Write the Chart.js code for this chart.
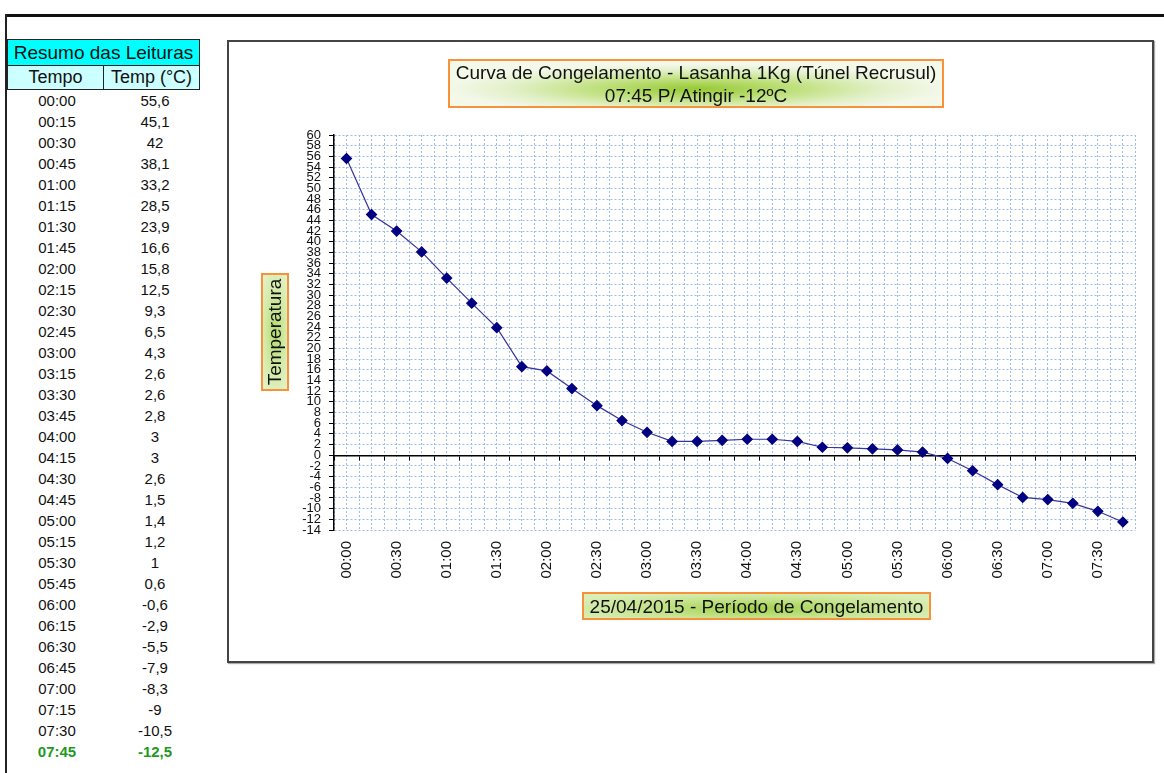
<!DOCTYPE html>
<html>
<head>
<meta charset="utf-8">
<script src="https://cdn.jsdelivr.net/npm/chart.js@4.4.1/dist/chart.umd.min.js"></script>
<style>
  html, body { margin:0; padding:0; background:#fff; }
  body { width:1164px; height:773px; position:relative; overflow:hidden; font-family:"Liberation Sans", Arial, sans-serif; }
  #topline { position:absolute; left:5px; top:14px; width:1159px; height:3px; background:#111; }
  #leftline { position:absolute; left:5px; top:14px; width:2px; height:759px; background:#222; }
  #hdr { position:absolute; left:7px; top:39px; width:193px; height:27px; background:#00ffff; border:1px solid #222; box-sizing:border-box;
         font-size:19px; line-height:25px; text-align:center; color:#111; white-space:nowrap; }
  .sub { position:absolute; top:66px; height:24px; background:#ccffff; border:1px solid #222; border-top:none; box-sizing:border-box;
         font-size:18px; line-height:22px; text-align:center; color:#111; white-space:nowrap; }
  .row { position:absolute; height:21px; line-height:21px; font-size:15px; text-align:center; color:#111; }
  .c1 { left:17px; width:80px; }
  .c2 { left:115px; width:80px; }
  .last { color:#1f9a1f; font-weight:bold; }
  #chartbox { position:absolute; left:227px; top:40px; width:927px; height:623px; border:2px solid #444; box-sizing:border-box;
              box-shadow:1px 1px 1px #aaa; background:#fff; }
  #cwrap { position:absolute; left:229px; top:42px; width:923px; height:619px; }
  .gbox { position:absolute; border:2px solid #f7923a; box-sizing:border-box; color:#111; text-align:center; white-space:nowrap; }
  #title { left:448px; top:59px; width:496px; height:49px; font-size:19px; line-height:23px; padding-top:0px;
           background: radial-gradient(ellipse 50% 55% at 50% 62%, #96c935 0%, #bfe07c 40%, #e2f0c8 75%, #f3f8e9 100%); }
  #xtitle { left:582px; top:592px; width:349px; height:28px; font-size:19px; line-height:25px;
           background: radial-gradient(ellipse 60% 70% at 50% 60%, #a2d14b 0%, #c8e593 60%, #daeeb8 100%); }
  #ytitle { left:261px; top:273px; width:28px; height:118px;
           background: radial-gradient(ellipse 70% 60% at 50% 50%, #b3db6c 0%, #d3eaa8 60%, #e2f1c6 100%); }
  #ytitle span { position:absolute; left:50%; top:50%; transform:translate(-50%,-50%) rotate(-90deg); font-size:19px; white-space:nowrap; }
</style>
</head>
<body>
<div id="topline"></div>
<div id="leftline"></div>
<div id="hdr">Resumo das Leituras</div>
<div class="sub" style="left:7px;width:97px;border-right:1px solid #222;">Tempo</div>
<div class="sub" style="left:103px;width:97px;">Temp (°C)</div>
<div id="rows"></div>

<div id="chartbox"></div>
<div id="cwrap"><canvas id="c" width="923" height="619"></canvas></div>
<div class="gbox" id="title">Curva de Congelamento - Lasanha 1Kg (Túnel Recrusul)<br>07:45 P/ Atingir -12ºC</div>
<div class="gbox" id="ytitle"><span>Temperatura</span></div>
<div class="gbox" id="xtitle">25/04/2015 - Período de Congelamento</div>

<script>
const times = ["00:00","00:15","00:30","00:45","01:00","01:15","01:30","01:45","02:00","02:15","02:30","02:45",
  "03:00","03:15","03:30","03:45","04:00","04:15","04:30","04:45","05:00","05:15","05:30","05:45",
  "06:00","06:15","06:30","06:45","07:00","07:15","07:30","07:45"];
const temps = [55.6,45.1,42,38.1,33.2,28.5,23.9,16.6,15.8,12.5,9.3,6.5,4.3,2.6,2.6,2.8,3,3,2.6,1.5,1.4,1.2,1,0.6,
  -0.6,-2.9,-5.5,-7.9,-8.3,-9,-10.5,-12.5];
const yMin = -14, yMax = 60, yStep = 2;

// table
const rowsEl = document.getElementById('rows');
times.forEach((t, i) => {
  const top = 90 + i * 21;
  const cls = i === times.length - 1 ? ' last' : '';
  const v = String(temps[i]).replace('.', ',');
  rowsEl.insertAdjacentHTML('beforeend',
    `<div class="row c1${cls}" style="top:${top}px">${t}</div><div class="row c2${cls}" style="top:${top}px">${v}</div>`);
});

const gridBlue = '#9dbbe8';
new Chart(document.getElementById('c'), {
  type: 'line',
  data: {
    labels: times,
    datasets: [{
      data: temps,
      borderColor: '#3535a0',
      borderWidth: 1.2,
      backgroundColor: '#000080',
      pointBackgroundColor: '#000080',
      pointBorderColor: '#000080',
      pointStyle: 'rectRot',
      pointRadius: 5,
      tension: 0,
      xAxisID: 'x',
      yAxisID: 'y'
    }]
  },
  options: {
    responsive: false,
    animation: false,
    events: [],
    layout: { padding: { left: 55, top: 93, right: 7, bottom: 51 } },
    plugins: { legend: { display: false }, tooltip: { enabled: false }, title: { display: false } },
    scales: {
      x: {
        type: 'category',
        offset: true,
        position: 'bottom',
        afterFit: s => { s.height = 80; },
        grid: { offset: false, color: gridBlue, lineWidth: 1, drawTicks: false },
        border: { display: false, dash: [2, 2] },
        ticks: {
          autoSkip: false, minRotation: 90, maxRotation: 90, padding: 11,
          color: '#111', font: { family: 'Liberation Sans', size: 15 },
          callback: function(v, i) { return i % 2 === 0 ? this.getLabelForValue(v) : ''; }
        }
      },
      x0: {
        type: 'category',
        offset: true,
        position: { y: 0 },
        grid: { offset: true, color: gridBlue, lineWidth: 1, drawTicks: true, tickLength: 4, tickColor: '#000', tickWidth: 1 },
        border: { display: true, color: '#000', width: 1.5, dash: [2, 2] },
        ticks: { display: false }
      },
      y: {
        type: 'linear',
        min: yMin, max: yMax,
        afterFit: s => { s.width = 50; },
        grid: { color: gridBlue, lineWidth: 1, drawTicks: true, tickLength: 5, tickColor: '#000', tickWidth: 1 },
        border: { display: true, color: '#000', width: 1.5, dash: [2, 2] },
        ticks: { stepSize: yStep, autoSkip: false, padding: 8, color: '#111', font: { family: 'Liberation Sans', size: 13 } }
      }
    }
  }
});
</script>
</body>
</html>
